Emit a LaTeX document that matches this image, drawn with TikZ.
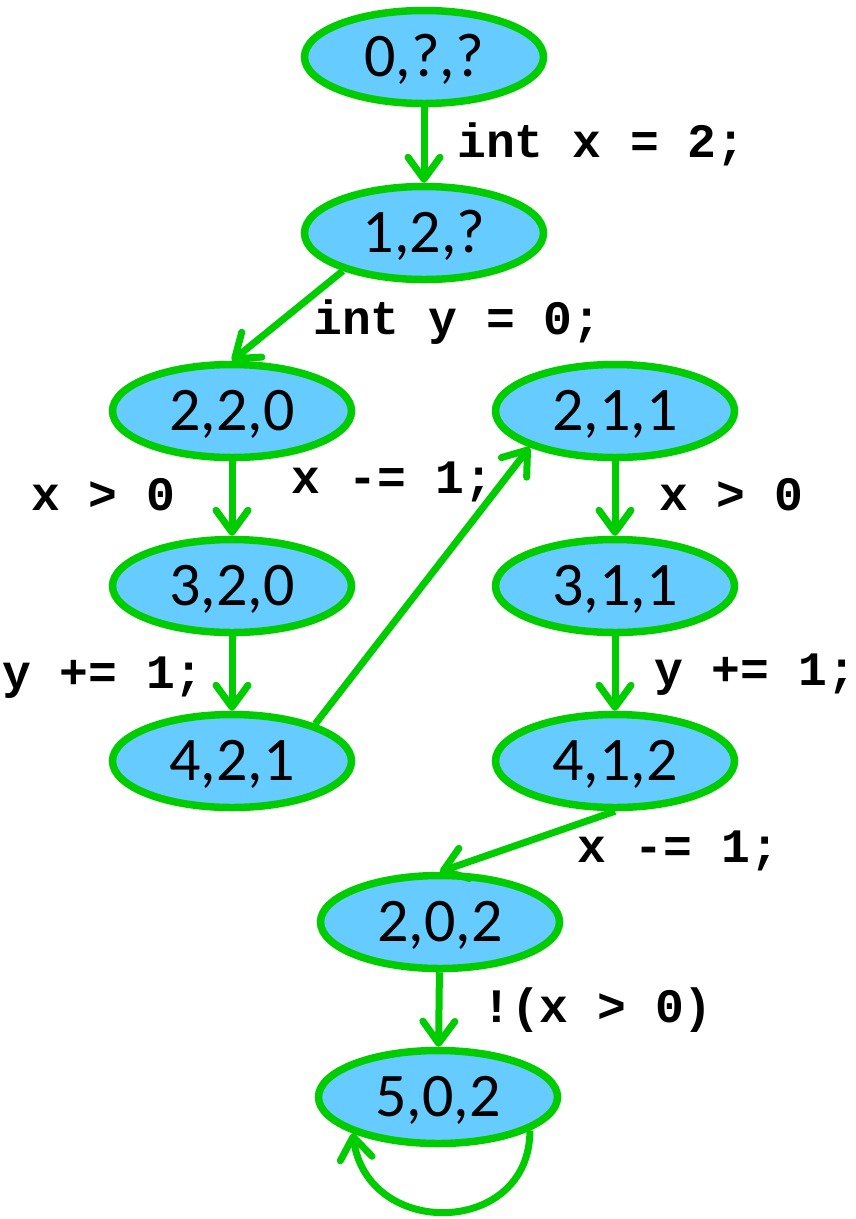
\documentclass[tikz,border=0pt]{standalone}
\usepackage{fontspec}
\usetikzlibrary{shapes.geometric,arrows.meta}
\newfontfamily\nodefont{Carlito}
\newfontfamily\codefont{Liberation Mono}
\definecolor{gr}{HTML}{00CC00}
\definecolor{bl}{HTML}{66CCFF}
\tikzset{
  state/.style={ellipse, draw=gr, fill=bl, line width=7.5pt, minimum width=239pt, minimum height=93pt,
    inner sep=0pt, font=\nodefont\fontsize{62}{70}\selectfont, text height=39pt, text depth=0pt},
  arr/.style={draw=gr, line width=7pt, -{Straight Barb[round,length=22pt,width=32pt]}},
  lbl/.style={anchor=base west, inner sep=0pt, font=\codefont\bfseries\fontsize{48}{56}\selectfont}
}
\begin{document}
\begin{tikzpicture}[x=1pt,y=-1pt]
\useasboundingbox (0,0) rectangle (856,1219);
\node[state] (n0)   at (424,57)   {0,?,?};
\node[state] (n1)   at (424,233)  {1,2,?};
\node[state] (n220) at (232,411)  {2,2,0};
\node[state] (n320) at (232,586)  {3,2,0};
\node[state] (n421) at (232,761)  {4,2,1};
\node[state] (n211) at (615,411)  {2,1,1};
\node[state] (n311) at (615,586)  {3,1,1};
\node[state] (n412) at (615,761)  {4,1,2};
\node[state] (n202) at (440,922)  {2,0,2};
\node[state] (n502) at (438,1097) {5,0,2};

\draw[arr] (n0) -- (n1);
\draw[arr] (n1.205) -- (n220.north);
\draw[arr] (n220) -- (n320);
\draw[arr] (n320) -- (n421);
\draw[arr] (n421.24) -- (n211.203);
\draw[arr] (n211) -- (n311);
\draw[arr] (n311) -- (n412);
\draw[arr] (n412.south) -- (n202.north);
\draw[arr] (n202) -- (n502);
\draw[arr] (n502.340) .. controls +(0,106) and +(15,107) .. (n502.203);

\node[lbl] (l1) at (457,157)  {int x = 2;};
\node[lbl] (l2) at (313,334)  {int y = 0;};
\node[lbl] (l3) at (31,510)   {x > 0};
\node[lbl] (l4) at (291,493)  {x -= 1;};
\node[lbl] (l5) at (659,510)  {x > 0};
\node[lbl] (l6) at (2,688)    {y += 1;};
\node[lbl] (l7) at (654,685)  {y += 1;};
\node[lbl] (l8) at (577,862)  {x -= 1;};
\node[lbl] (l9) at (482,1022) {!(x > 0)};
\end{tikzpicture}
\end{document}
